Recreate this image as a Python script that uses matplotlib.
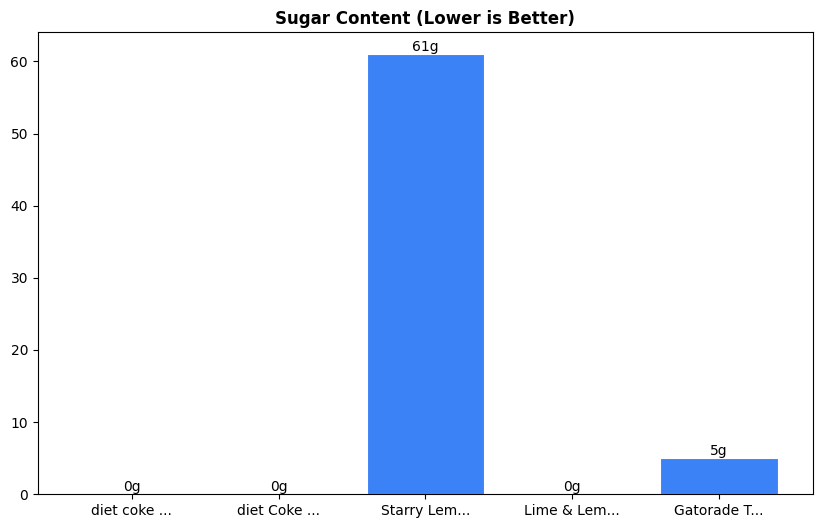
import matplotlib
matplotlib.use("Agg")
import matplotlib.pyplot as plt

labels = ["diet coke ...", "diet Coke ...", "Starry Lem...", "Lime & Lem...", "Gatorade T..."]
sugar = [0, 0, 61, 0, 5]

fig = plt.figure(figsize=(8.22, 5.28), dpi=100)
ax = fig.add_axes([0.046, 0.064, 0.943, 0.875])
bars = ax.bar(range(len(labels)), sugar, width=0.8, color="#3b82f6", edgecolor="white", linewidth=0.8)
for b, v in zip(bars, sugar):
    ax.text(b.get_x() + b.get_width() / 2, v, f"{v}g", ha="center", va="bottom", fontsize=10)
ax.set_xticks(range(len(labels)))
ax.set_xticklabels(labels)
ax.set_title("Sugar Content (Lower is Better)", fontweight="bold", fontsize=12)
fig.savefig("out.png", dpi=100)
